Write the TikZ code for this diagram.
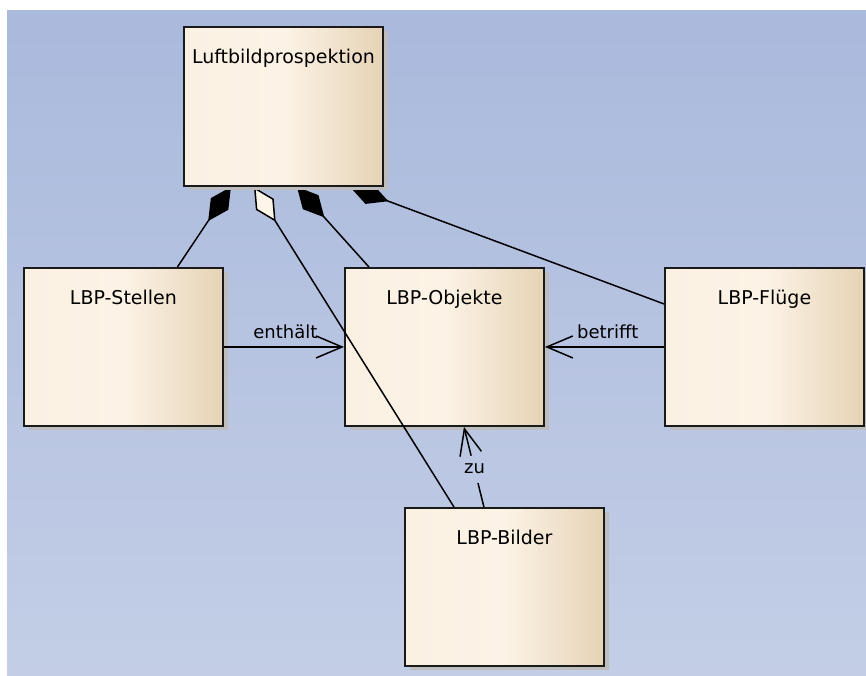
\documentclass[tikz,border=0pt]{standalone}
\usepackage{fontspec}
\setmainfont{DejaVu Sans}
\usetikzlibrary{arrows.meta,shadows,calc}

\definecolor{bgtop}{HTML}{AAB9DC}
\definecolor{bgbot}{HTML}{C3CEE6}
\definecolor{boxl}{HTML}{FAF1E3}
\definecolor{boxm}{HTML}{FCF3E6}
\definecolor{boxr}{HTML}{E6D3B6}
\definecolor{shade}{HTML}{BDBDBD}
\definecolor{edge}{HTML}{1A1A1A}
\definecolor{hollow}{HTML}{FDF6E8}

\pgfdeclarelayer{bg}
\pgfdeclarelayer{fg}
\pgfsetlayers{bg,main,fg}

\begin{document}
\begin{tikzpicture}[x=1pt,y=-1pt,
  classbox/.style={rectangle, draw=edge, line width=1.9pt,
    minimum width=199pt, minimum height=158pt, inner sep=0pt, anchor=north west,
    left color=boxl, right color=boxr, middle color=boxm,
    general shadow={fill=shade, shadow xshift=5pt, shadow yshift=-4pt}},
  title/.style={anchor=base, font=\fontsize{19}{22}\selectfont, inner sep=0pt},
  lbl/.style={font=\fontsize{18}{21}\selectfont, inner sep=0pt},
  link/.style={line width=1.5pt, draw=black},
  comp/.style={link, {Diamond[length=41pt,width=21pt,fill=black]}-},
  aggr/.style={link, {Diamond[length=41pt,width=21pt,fill=hollow]}-},
  assoc/.style={link, -{Straight Barb[length=26pt,width=22pt]}},
]
\useasboundingbox (0,0) rectangle (866,675);

% canvas
\begin{pgfonlayer}{bg}
  \fill[white] (0,0) rectangle (866,675);
  \shade[top color=bgtop, bottom color=bgbot] (7,10) rectangle (866,675);
\end{pgfonlayer}

% classes
\node[classbox] (stellen) at (23,267) {};
\node[classbox] (objekte) at (344,267) {};
\node[classbox] (fluege)  at (664,267) {};
\node[classbox] (bilder)  at (404,507) {};
\node[title] (stellen-t) at ([yshift=-37pt]stellen.north) {LBP-Stellen};
\node[title] (objekte-t) at ([yshift=-37pt]objekte.north) {LBP-Objekte};
\node[title] (fluege-t)  at ([yshift=-37pt]fluege.north)  {LBP-Flüge};
\node[title] (bilder-t)  at ([yshift=-37pt]bilder.north)  {LBP-Bilder};

\begin{pgfonlayer}{fg}
  \node[classbox, minimum height=159pt] (luft) at (183,26) {};
  \node[title] (luft-t) at ([yshift=-37pt]luft.north) {Luftbildprospektion};
\end{pgfonlayer}

% whole-part links to the root class
\coordinate (a1) at ([xshift=-52.5pt]luft.south);
\coordinate (a2) at ([xshift=-29.5pt]luft.south);
\coordinate (a3) at ([xshift=13.5pt]luft.south);
\coordinate (a4) at ([xshift=66.5pt]luft.south);
\draw[comp] (a1) -- ([xshift=54pt]stellen.north);
\draw[aggr] (a2) -- ([xshift=-50.5pt]bilder.north);
\draw[comp] (a3) -- ([xshift=-75.5pt]objekte.north);
\draw[comp] (a4) -- ([yshift=43pt]fluege.west);

% directed associations
\draw[assoc] (stellen.east) -- node[lbl, pos=0.785, anchor=base east, yshift=8pt] (enth) {enthält} (objekte.west);
\draw[assoc] (fluege.west) -- node[lbl, pos=0.736, anchor=base west, yshift=8pt] (betr) {betrifft} (objekte.east);

\coordinate (zuTop) at ([xshift=19.5pt]objekte.south);
\coordinate (zuBot) at ([xshift=-20.5pt]bilder.north);
\node[lbl, minimum height=27pt, text height=9pt, text depth=0pt, inner xsep=3pt] (zu) at ($(zuBot)!0.47!(zuTop)$) {zu};
\draw[link] (zuBot) -- (zu);
\draw[assoc] (zu) -- (zuTop);
\end{tikzpicture}
\end{document}
